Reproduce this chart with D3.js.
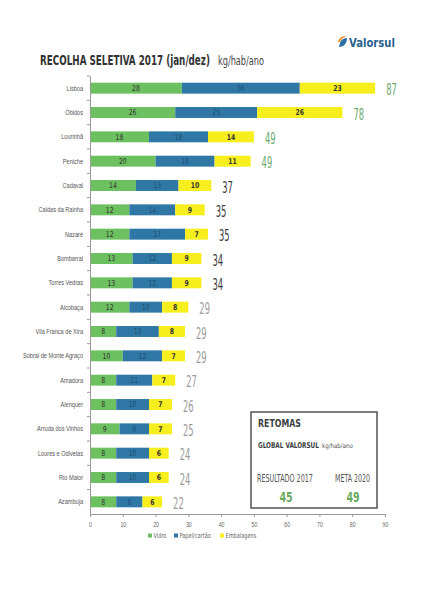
<!DOCTYPE html>
<html>
<head>
<meta charset="utf-8">
<script src="https://cdn.jsdelivr.net/npm/d3@7"></script>
<style>
  body { margin: 0; background: #fff; }
  svg { font-family: "DejaVu Sans Condensed", "DejaVu Sans", sans-serif; }
</style>
</head>
<body>
<div id="chart"></div>
<script>
// data
var municipios = ["Lisboa", "Óbidos", "Lourinhã", "Peniche", "Cadaval", "Caldas da Rainha",
  "Nazaré", "Bombarral", "Torres Vedras", "Alcobaça", "Vila Franca de Xira",
  "Sobral de Monte Agraço", "Amadora", "Alenquer", "Arruda dos Vinhos",
  "Loures e Odivelas", "Rio Maior", "Azambuja"];
var vidro      = [28, 26, 18, 20, 14, 12, 12, 13, 13, 12, 8, 10, 8, 8, 9, 8, 8, 8];
var papel      = [36, 25, 18, 18, 13, 14, 17, 12, 12, 10, 13, 12, 11, 10, 9, 10, 10, 8];
var embalagens = [23, 26, 14, 11, 10, 9, 7, 9, 9, 8, 8, 7, 7, 7, 7, 6, 6, 6];
var totais     = [87, 78, 49, 49, 37, 35, 35, 34, 34, 29, 29, 29, 27, 26, 25, 24, 24, 22];
var series = ["Vidro", "Papel/cartão", "Embalagens"];
var xTicks = [0, 10, 20, 30, 40, 50, 60, 70, 80, 90];

var svgWidth = 425, svgHeight = 600;
var cores = { "Vidro": "#6cc05f", "Papel/cartão": "#2f78a6", "Embalagens": "#f6ee1d" };

var svg = d3.select("#chart").append("svg")
  .attr("width", svgWidth)
  .attr("height", svgHeight);

// the original uses a narrow DIN-like face, so squeeze the text horizontally
function squeeze(sel, k) {
  sel.each(function() {
    var t = d3.select(this);
    var tx = +t.attr("x") || 0, ty = +t.attr("y") || 0;
    t.attr("x", 0).attr("y", 0)
      .attr("transform", "translate(" + tx + "," + ty + ") scale(" + k + ",1)");
  });
}
// squeeze a single text to a given width
function fit(t, w) {
  var k = w / t.node().getComputedTextLength();
  squeeze(t, k);
  return t;
}

// table for the stack
var rows = municipios.map(function(m, i) {
  return { municipio: m, "Vidro": vidro[i], "Papel/cartão": papel[i], "Embalagens": embalagens[i], total: totais[i] };
});

var x = d3.scaleLinear().domain([0, 90]).range([90, 385]);
var y = d3.scaleBand().domain(municipios).range([76, 514]).paddingInner(0.55).paddingOuter(0.275);

var stack = d3.stack().keys(series)(rows);

// title
fit(svg.append("text").attr("x", 40).attr("y", 65)
  .attr("font-size", 14.5).attr("font-weight", "bold").attr("fill", "#333")
  .text("RECOLHA SELETIVA 2017 (jan/dez)"), 170);
fit(svg.append("text").attr("x", 218).attr("y", 65)
  .attr("font-size", 13).attr("fill", "#444").text("kg/hab/ano"), 46);

// logo
var logo = svg.append("g").attr("transform", "translate(337,36)");
logo.append("path").attr("d", "M1,6 C2,1 7,-1 10,1 C6,1 4,3 3,6 Z").attr("fill", "#f08a24");
logo.append("path").attr("d", "M3,7 C4,3 8,2 10,2 C10,7 7,11 2,11 Z").attr("fill", "#2c6fa5");
fit(logo.append("text").attr("x", 12).attr("y", 11).attr("font-size", 12).attr("font-weight", "bold")
  .attr("fill", "#2b5f90").text("Valorsul"), 46);

// bars
var layer = svg.append("g").selectAll("g").data(stack).enter().append("g")
  .attr("fill", function(d) { return cores[d.key]; });

layer.selectAll("rect").data(function(d) { return d; }).enter().append("rect")
  .attr("x", function(d) { return x(d[0]); })
  .attr("y", function(d) { return y(d.data.municipio); })
  .attr("width", function(d) { return x(d[1]) - x(d[0]); })
  .attr("height", y.bandwidth());

// segment labels
stack.forEach(function(s) {
  var lab = svg.append("g").selectAll("text").data(s).enter().append("text")
    .attr("x", function(d) { return (x(d[0]) + x(d[1])) / 2; })
    .attr("y", function(d) { return y(d.data.municipio) + y.bandwidth() / 2 + 2.7; })
    .attr("text-anchor", "middle")
    .attr("font-size", 8)
    .attr("fill", s.key == "Papel/cartão" ? "#1f4f72" : "#333")
    .attr("font-weight", s.key == "Embalagens" ? "bold" : "normal")
    .text(function(d) { return d.data[s.key]; });
  squeeze(lab, 0.85);
});

// totals
var tot = svg.append("g").selectAll("text").data(rows).enter().append("text")
  .attr("x", function(d) { return x(d["Vidro"] + d["Papel/cartão"] + d["Embalagens"]) + 11; })
  .attr("y", function(d) { return y(d.municipio) + y.bandwidth() / 2 + 7; })
  .attr("font-size", 15)
  .attr("fill", function(d) { return d.total >= 45 ? "#6aaa6a" : (d.total >= 30 ? "#3a3a3a" : "#9a9a9a"); })
  .text(function(d) { return d.total; });
squeeze(tot, 0.62);

// y axis
var leftAxis = d3.axisLeft(y).tickSize(0).tickPadding(7);
var gy = svg.append("g").attr("transform", "translate(90,0)").call(leftAxis);
gy.select(".domain").attr("stroke", "#999");
gy.selectAll("text").attr("font-size", 8).attr("fill", "#555").attr("font-family", null);
squeeze(gy.selectAll(".tick text"), 0.7);
// small ticks between rows
gy.selectAll(".sep").data(municipios).enter().append("line")
  .attr("x1", -3).attr("x2", 0)
  .attr("y1", function(d) { return y(d) - y.step() * 0.275; })
  .attr("y2", function(d) { return y(d) - y.step() * 0.275; })
  .attr("stroke", "#999");

// x axis
var bottomAxis = d3.axisBottom(x).tickValues(xTicks).tickSize(3).tickPadding(5);
var gx = svg.append("g").attr("transform", "translate(0,514)").call(bottomAxis);
gx.select(".domain").attr("stroke", "#999");
gx.selectAll("line").attr("stroke", "#999");
gx.selectAll("text").attr("font-size", 6.5).attr("fill", "#666").attr("font-family", null);
squeeze(gx.selectAll(".tick text"), 0.8);

// legend
var legX = [148, 174, 220];
var leg = svg.append("g").selectAll("g").data(series).enter().append("g")
  .attr("transform", function(d, i) { return "translate(" + legX[i] + ",537)"; });
leg.append("rect").attr("x", 0).attr("y", -3.5).attr("width", 4).attr("height", 4)
  .attr("fill", function(d) { return cores[d]; });
var legText = leg.append("text").attr("x", 5.5).attr("y", 0.8).attr("font-size", 7).attr("fill", "#666")
  .text(function(d) { return d; });
squeeze(legText, 0.8);

// retomas box
var box = svg.append("g").attr("transform", "translate(251,412)");
box.append("rect").attr("width", 126).attr("height", 96)
  .attr("fill", "#fff").attr("stroke", "#4d5356").attr("stroke-width", 1.5);
fit(box.append("text").attr("x", 7).attr("y", 15).attr("font-size", 10.5).attr("font-weight", "bold")
  .attr("fill", "#3a3f42").text("RETOMAS"), 43);
fit(box.append("text").attr("x", 7).attr("y", 36).attr("font-size", 8).attr("font-weight", "bold")
  .attr("fill", "#3a3f42").text("GLOBAL VALORSUL"), 61);
fit(box.append("text").attr("x", 71).attr("y", 36).attr("font-size", 6.5).attr("fill", "#555")
  .text("kg/hab/ano"), 31);
fit(box.append("text").attr("x", 6).attr("y", 70).attr("font-size", 10).attr("fill", "#555")
  .text("RESULTADO 2017"), 56);
fit(box.append("text").attr("x", 84).attr("y", 70).attr("font-size", 10)
  .attr("fill", "#555").text("META 2020"), 35);
var res = box.append("g").selectAll("text").data([[35, "45"], [102, "49"]]).enter().append("text")
  .attr("x", function(d) { return d[0]; }).attr("y", 90)
  .attr("text-anchor", "middle").attr("font-size", 14)
  .attr("font-weight", "bold").attr("fill", "#6aaa5a").text(function(d) { return d[1]; });
squeeze(res, 0.75);
</script>
</body>
</html>
